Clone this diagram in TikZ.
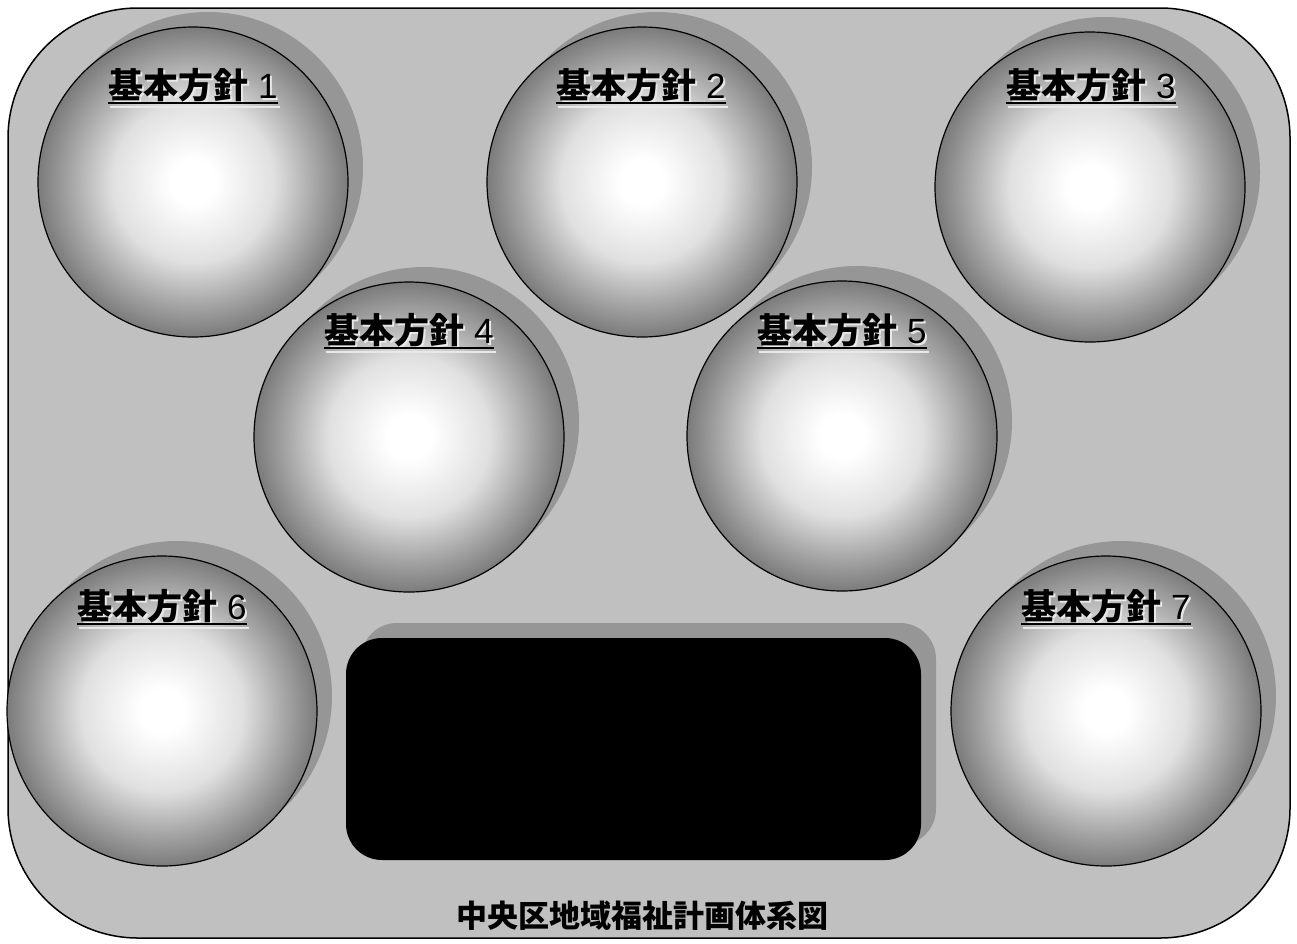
\documentclass[tikz,border=0pt]{standalone}
\usepackage{fontspec}
\setmainfont{Liberation Sans}
\newfontfamily\cjk{Noto Sans CJK JP}
\usetikzlibrary{calc,shadows}
\definecolor{bg}{HTML}{C0C0C0}
\definecolor{shd}{HTML}{969696}
\definecolor{ga}{HTML}{E0E0E0}
\definecolor{gb}{HTML}{A8A8A8}
\definecolor{gc}{HTML}{7B7B7B}
\definecolor{lshd}{HTML}{E8E8E8}
\pgfdeclareradialshading{ballshade}{\pgfpoint{0bp}{0bp}}{color(0bp)=(white); color(3.5bp)=(white); color(13bp)=(ga); color(19.5bp)=(gb); color(25bp)=(gc); color(50bp)=(gc)}
\tikzset{
  sphere/.style={circle, draw=black, line width=1.2pt, minimum size=310pt, inner sep=0pt,
    shading=ballshade,
    drop shadow={shadow xshift=15pt, shadow yshift=15pt, fill=shd, opacity=1}},
  lbl/.style={anchor=base, inner sep=0pt, font=\fontsize{35}{40}\selectfont},
  uline/.style={line width=1.8pt, black},
  ushd/.style={line width=1.5pt, lshd},
  panel/.style={rectangle, rounded corners=36pt, fill=black, minimum width=575pt, minimum height=222pt,
    drop shadow={shadow xshift=15pt, shadow yshift=15pt, fill=shd, opacity=1}},
  frame/.style={draw=black, fill=bg, line width=1.5pt, rounded corners=130pt, minimum width=1282pt, minimum height=930pt}
}
\newcommand\mylabel[4]{%
  \node[lbl, text=lshd] (#1s) at (#2+2,#3+2) {{\cjk\bfseries 基本方針}\ #4};
  \draw[ushd] ([yshift=-7pt]#1s.base west) -- ([yshift=-7pt]#1s.base east);
  \node[lbl, text=black] (#1) at (#2,#3) {{\cjk\bfseries 基本方針}\ #4};
  \draw[uline] ([yshift=-5pt]#1.base west) -- ([yshift=-5pt]#1.base east);
}
\begin{document}
\begin{tikzpicture}[x=1pt,y=-1pt]
\useasboundingbox (0,0) rectangle (1297,943);
\node[frame] (fr) at (649,473) {};
\node[sphere] (c1) at (193,182) {};
\node[sphere] (c2) at (642,182) {};
\node[sphere] (c3) at (1090,187) {};
\node[sphere] (c4) at (409,437) {};
\node[sphere] (c5) at (842,436) {};
\node[sphere] (c6) at (162,711) {};
\node[sphere] (c7) at (1106,711) {};
\node[panel] (box) at (633.5,749) {};
\mylabel{l1}{193}{98}{1}
\mylabel{l2}{641}{98}{2}
\mylabel{l3}{1091}{98}{3}
\mylabel{l4}{409}{343}{4}
\mylabel{l5}{842}{343}{5}
\mylabel{l6}{162}{619}{6}
\mylabel{l7}{1106}{619}{7}
\node[font=\cjk\bfseries\fontsize{31}{36}\selectfont, inner sep=0pt] (title) at (642,916) {中央区地域福祉計画体系図};
\end{tikzpicture}
\end{document}
